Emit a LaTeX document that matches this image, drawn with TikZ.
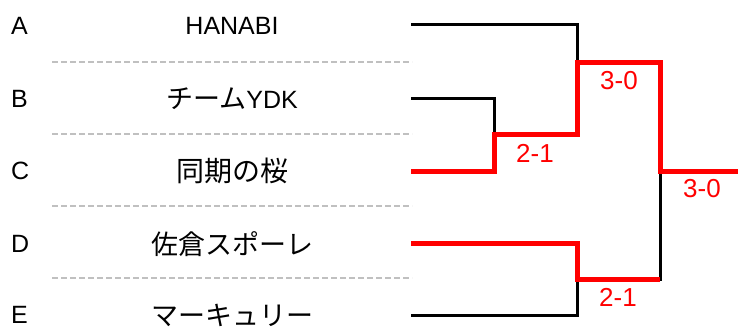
\documentclass[tikz,border=0pt]{standalone}
\usepackage{fontspec}
\setmainfont{Liberation Sans}
\newfontfamily\cjk{Noto Sans CJK JP}
\definecolor{sepgray}{HTML}{C0C0C0}
\definecolor{winred}{HTML}{FF0000}
\begin{document}
\begin{tikzpicture}[x=1pt,y=-1pt,
  letter/.style={anchor=west,inner sep=0pt,font=\fontsize{25}{25}\selectfont},
  team/.style={inner sep=0pt,font=\fontsize{25}{25}\selectfont},
  score/.style={inner sep=0pt,text=winred,font=\fontsize{26}{26}\selectfont},
  sep/.style={draw=sepgray,line width=2pt,dash pattern=on 6pt off 3pt},
  loser/.style={draw=black,line width=3pt,line join=miter},
  winner/.style={draw=winred,line width=5pt,line join=miter}]
\useasboundingbox (0,0) rectangle (738,329);
% letters
\node[letter] (la) at (11,26) {A};
\node[letter] (lb) at (11,99) {B};
\node[letter] (lc) at (11,171) {C};
\node[letter] (ld) at (11,244) {D};
\node[letter] (le) at (11,315) {E};
% team names
\node[team] (ta) at (232,26) {HANABI};
\node[team] (tb) at (232,99) {{\cjk\fontsize{27}{27}\selectfont チーム}YDK};
\node[team] (tc) at (232,171) {\cjk\fontsize{28}{28}\selectfont 同期の桜};
\node[team] (td) at (232,244) {\cjk\fontsize{27}{27}\selectfont 佐倉スポーレ};
\node[team] (te) at (232,315) {\cjk\fontsize{27}{27}\selectfont マーキュリー};
% separators
\coordinate (s1l) at (52,62);  \coordinate (s1r) at (412,62);
\coordinate (s2l) at (52,134); \coordinate (s2r) at (412,134);
\coordinate (s3l) at (52,206); \coordinate (s3r) at (412,206);
\coordinate (s4l) at (52,278); \coordinate (s4r) at (412,278);
\draw[sep] (s1l) -- (s1r);
\draw[sep] (s2l) -- (s2r);
\draw[sep] (s3l) -- (s3r);
\draw[sep] (s4l) -- (s4r);
% bracket points
\coordinate (a) at (411,25);
\coordinate (b) at (411,98);
\coordinate (c) at (411,171);
\coordinate (d) at (411,243);
\coordinate (e) at (411,315);
\coordinate (m1) at (494,134);
\coordinate (m2) at (577,62);
\coordinate (m3) at (577,279);
\coordinate (fin) at (660,171);
\coordinate (champ) at (738,171);
% losers
\draw[loser] (a) -| (m2);
\draw[loser] (b) -| (m1);
\draw[loser] (e) -| (m3);
\draw[loser] (m3) -| (fin);
% winners
\draw[winner] (c) -| (m1) -| (m2) -| (fin) -- (champ);
\draw[winner] (d) -| (m3) -- (m3 -| fin);
% scores
\node[score] (s21a) at (535,153) {2-1};
\node[score] (s30a) at (619,81) {3-0};
\node[score] (s30b) at (702,189) {3-0};
\node[score] (s21b) at (618,297) {2-1};
\end{tikzpicture}
\end{document}
